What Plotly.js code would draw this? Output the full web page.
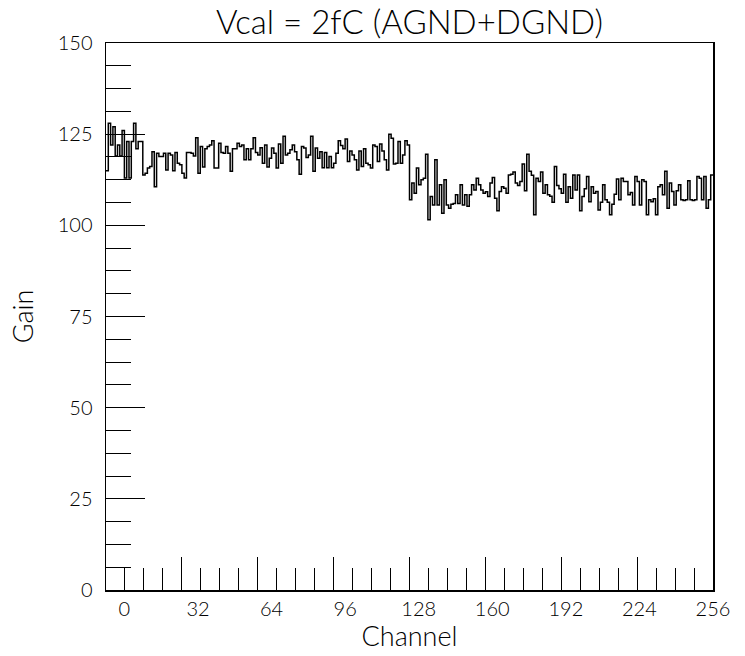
<!DOCTYPE html>
<html>
<head>
<meta charset="utf-8">
<script src="https://cdn.plot.ly/plotly-3.0.1.min.js"></script>
<style>html,body{margin:0;padding:0;background:#fff;}#chart{width:745px;height:656px;}</style>
</head>
<body>
<div id="chart"></div>
<script>
// Histogram contents, one value per channel bin starting at channel -8
const firstChannel = -8;
const gain = [
  // -8 .. 7
  115, 128, 122, 127, 119, 122, 119, 126, 113, 123, 113, 123, 128, 121, 123, 123,
  // 8 .. 21
  113.8, 114.3, 115.7, 116.1, 120.2, 110.6, 119.8, 118.9, 118.9, 119.8, 115.2, 119.8, 119.3, 115,
  // 22 .. 55
  120, 117, 116.6, 114.3, 113, 120, 120, 119.8, 119, 124, 114.3, 121.6, 116, 121, 121.6, 122, 123.2,
  115.7, 115.7, 122.5, 120, 119.8, 121.6, 119.8, 114.8, 121, 121, 122.5, 121.6, 122, 118, 121, 118, 121,
  // 56 .. 86
  124, 120, 119.3, 121.3, 117, 122, 116, 118.4, 121.2, 119.8, 115.7, 122.3, 117, 124.4, 119.3, 119.8,
  120.7, 122, 120.2, 118, 114, 121.6, 121.2, 118.6, 119.3, 124.4, 114.8, 121.2, 118.4, 120.2, 115.8,
  // 87 .. 119
  120, 115.8, 118.9, 115.8, 117, 119.8, 123.2, 121.9, 121, 123.7, 117.5, 120.4, 119.3, 118, 115.2, 120.4,
  116.1, 121, 117, 116.6, 115.7, 122, 121.6, 117.5, 122.3, 120.4, 118, 115.2, 125, 123.9, 116.8, 117, 123,
  // 120 .. 152
  117, 119.3, 123.2, 122, 107, 111.6, 108.8, 115.7, 111.1, 112.5, 112.9, 119.5, 101.5, 107.9, 105.6, 118,
  105.6, 111.1, 103.3, 112.5, 105.6, 104.7, 105.8, 106, 108.4, 106, 111.1, 105.6, 108.4, 105.2, 108.4, 111.1, 109.7,
  // 153 .. 187
  112.9, 111.1, 109.7, 108.8, 109.2, 107.9, 111.6, 113.1, 107.4, 104, 109.3, 110.6, 110.2, 108.8, 113.8, 114,
  114.6, 111.6, 110.9, 112, 116.8, 109.5, 119.5, 114.8, 113.7, 102.9, 112.9, 112, 114.6, 108.8, 111.1, 108.4,
  108, 106.3, 116.1,
  // 188 .. 217
  110.9, 110, 108.8, 114, 106.3, 110.6, 107.4, 113.8, 109.7, 113.8, 104, 107.9, 110, 113.4, 106.5, 110.6,
  108.8, 109.3, 104.2, 106.3, 111.1, 107, 106.3, 102.9, 105.8, 108.5, 112.7, 107, 112.9, 112,
  // 218 .. 255
  112, 108.4, 109, 105.6, 113.4, 112, 105.6, 112.5, 112, 102.9, 107, 106.5, 107.3, 102.9, 110.6, 111.1,
  108.4, 114.8, 104.7, 111.6, 109.3, 105.6, 109.5, 111.1, 107, 106.8, 107, 112.2, 107, 106.8, 107, 113.4,
  112.9, 107, 113.4, 104.7, 107, 113.8
];
const xLabels = [0, 32, 64, 96, 128, 160, 192, 224, 256];
const yLabels = [0, 25, 50, 75, 100, 125, 150];
const xMin = -8, xMax = 256;

// bin left edges + closing edge for a step outline
const edges = gain.map((v, i) => firstChannel + i);
edges.push(firstChannel + gain.length);
const steps = gain.slice();
steps.push(gain[gain.length - 1]);

// PAW-style tick divisions: 8 primary x 4 secondary across the full x range
const nMaj = 8, nMin = 4;
const majTicks = [], minTicks = [];
for (let k = 0; k <= nMaj * nMin; k++) {
  const v = xMin + (xMax - xMin) * k / (nMaj * nMin);
  if (k % nMin === 0) majTicks.push(v); else minTicks.push(v);
}

const fontFam = 'Lato, DejaVu Sans, sans-serif';
const fw = 300;

const traces = [
  {
    x: edges, y: steps, type: 'scatter', mode: 'lines',
    line: {shape: 'hv', color: '#000', width: 1.5},
    hoverinfo: 'skip', showlegend: false
  },
  { x: [], y: [], xaxis: 'x2', yaxis: 'y', type: 'scatter', mode: 'lines', showlegend: false }
];

const layout = {
  width: 745, height: 656,
  margin: {l: 106, r: 32, t: 43, b: 66},
  paper_bgcolor: '#fff', plot_bgcolor: '#fff',
  font: {family: fontFam, color: '#000', weight: fw},
  showlegend: false,
  title: {
    text: 'Vcal = 2fC (AGND+DGND)',
    font: {size: 33, family: fontFam, color: '#000', weight: fw},
    x: 0.5496, xref: 'container', xanchor: 'center',
    y: 1 - 22/656, yref: 'container', yanchor: 'middle'
  },
  xaxis: {
    range: [xMin, xMax], showgrid: false, zeroline: false,
    showline: true, linecolor: '#000', linewidth: 1.5, mirror: true,
    tickmode: 'array', tickvals: xLabels, ticktext: xLabels.map(String),
    ticks: '', ticklabelstandoff: 0,
    tickfont: {size: 20, family: fontFam, color: '#000', weight: fw},
    title: {text: 'Channel', font: {size: 27, family: fontFam, color: '#000', weight: fw}, standoff: 8}
  },
  xaxis2: {
    range: [xMin, xMax], overlaying: 'x', anchor: 'y', side: 'bottom',
    showgrid: false, zeroline: false, showline: false, showticklabels: false,
    tickmode: 'array', tickvals: majTicks, ticks: 'inside', ticklen: 33, tickwidth: 1, tickcolor: '#000',
    minor: {tickmode: 'array', tickvals: minTicks, ticks: 'inside', ticklen: 22, tickwidth: 1, tickcolor: '#000', showgrid: false}
  },
  yaxis: {
    range: [0, 150], showgrid: false, zeroline: false,
    showline: true, linecolor: '#000', linewidth: 1.5, mirror: true,
    tickmode: 'array', tickvals: yLabels, ticktext: yLabels.map(String),
    ticks: 'inside', ticklen: 39, tickwidth: 1, tickcolor: '#000',
    minor: {dtick: 6.25, tick0: 0, ticks: 'inside', ticklen: 25, tickwidth: 1, tickcolor: '#000', showgrid: false},
    ticklabelstandoff: 8,
    tickfont: {size: 20, family: fontFam, color: '#000', weight: fw},
    title: {text: 'Gain', font: {size: 27, family: fontFam, color: '#000', weight: fw}, standoff: 16}
  }
};

Plotly.newPlot('chart', traces, layout, {displayModeBar: false, staticPlot: true});
</script>
</body>
</html>
